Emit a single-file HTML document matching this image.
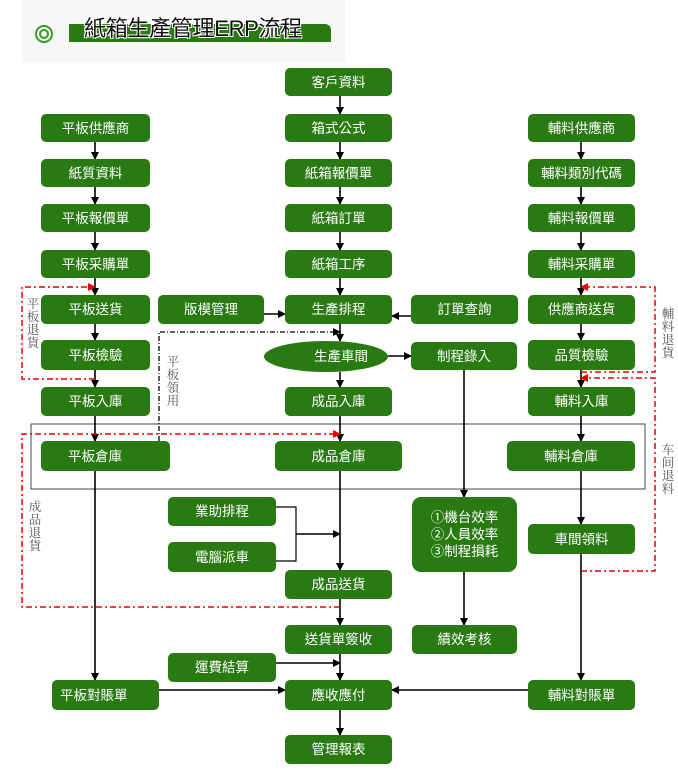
<!DOCTYPE html>
<html><head><meta charset="utf-8"><style>
body{margin:0;width:678px;height:783px;background:#fff;position:relative;overflow:hidden;font-family:"Liberation Sans","Noto Sans CJK TC",sans-serif}
.b{position:absolute;background:#2a7a14;color:#fff;border-radius:5px;font-size:13.5px;display:flex;align-items:center;justify-content:center;text-align:center;line-height:17px}
.v{position:absolute;writing-mode:vertical-rl;font-family:"Liberation Serif","Noto Serif CJK SC",serif;font-size:12.5px;color:#555;line-height:12px;letter-spacing:0.5px}
svg{position:absolute;left:0;top:0}
</style></head><body>
<div style="position:absolute;left:22px;top:0;width:323px;height:62px;background:#f7f7f5"></div>
<div style="position:absolute;left:35px;top:25px;width:18px;height:18px;border:2.5px solid #3a9a2a;border-radius:50%;box-sizing:border-box"></div>
<div style="position:absolute;left:39px;top:29px;width:10px;height:10px;border:2px solid #3a9a2a;border-radius:50%;box-sizing:border-box"></div>
<div style="position:absolute;left:69px;top:24px;width:262px;height:18px;background:#2a7a14;border-radius:0 6px 0 0"></div>
<div style="position:absolute;left:84px;top:11px;font-size:22px;color:#111;text-shadow:1px 1px 0 #fff,-1px -1px 0 #fff,1px -1px 0 #fff,-1px 1px 0 #fff;letter-spacing:-0.3px">紙箱生產管理ERP流程</div>

<svg width="678" height="783">
<defs><marker id="a" markerWidth="8" markerHeight="8" refX="7" refY="4" orient="auto" markerUnits="userSpaceOnUse"><path d="M0,0L8,4L0,8z" fill="#000"/></marker>
<marker id="r" markerWidth="8" markerHeight="8" refX="7" refY="4" orient="auto" markerUnits="userSpaceOnUse"><path d="M0,0L8,4L0,8z" fill="#e00"/></marker></defs>
<rect x="31" y="424" width="614" height="65" fill="none" stroke="#444" stroke-width="1"/>
<g stroke="#000" stroke-width="1.6" fill="none" marker-end="url(#a)">
<path d="M95 142V159"/><path d="M95 187V204"/><path d="M95 232V250"/><path d="M95 278V295"/><path d="M95 324V340"/><path d="M95 370V387"/><path d="M95 416V441"/><path d="M95 471V680"/>
<path d="M340 96V114"/><path d="M340 142V159"/><path d="M340 187V204"/><path d="M340 232V250"/><path d="M340 278V295"/><path d="M340 324V341"/><path d="M340 372V387"/><path d="M340 416V441"/><path d="M340 471V570"/><path d="M340 599V625"/><path d="M340 654V680"/><path d="M340 710V735"/>
<path d="M581 142V159"/><path d="M581 187V204"/><path d="M581 232V250"/><path d="M581 278V295"/><path d="M581 324V340"/><path d="M581 370V387"/><path d="M581 416V441"/><path d="M581 471V524"/><path d="M581 554V680"/>
<path d="M264 314H285"/><path d="M411 316H392"/><path d="M388 356H411"/><path d="M464 370V497"/><path d="M464 572V625"/>
<path d="M296 534H340"/><path d="M276 663H340"/><path d="M159 690H285"/><path d="M528 690H392"/>
</g>
<path d="M276 507H296V561H276" stroke="#000" stroke-width="1.2" fill="none"/>
<path d="M159 441V332H340" stroke="#000" stroke-width="1.3" stroke-dasharray="5,2,1,2" fill="none" marker-end="url(#a)"/>
<g stroke="#e00" stroke-width="1.5" stroke-dasharray="6,3,2,3" fill="none">
<path d="M95 379H22V287H95" marker-end="url(#r)"/>
<path d="M340 607H22V434H340" marker-end="url(#r)"/>
<path d="M581 372H655V287H581" marker-end="url(#r)"/>
<path d="M581 571H655V378H581" marker-end="url(#r)"/>
</g>
</svg>

<div class="b" style="left:41px;top:114px;width:109px;height:28px">平板供應商</div>
<div class="b" style="left:41px;top:159px;width:109px;height:28px">紙質資料</div>
<div class="b" style="left:41px;top:204px;width:109px;height:28px">平板報價單</div>
<div class="b" style="left:41px;top:250px;width:109px;height:28px">平板采購單</div>
<div class="b" style="left:41px;top:295px;width:109px;height:29px">平板送貨</div>
<div class="b" style="left:41px;top:340px;width:109px;height:30px">平板檢驗</div>
<div class="b" style="left:41px;top:387px;width:109px;height:29px">平板入庫</div>
<div class="b" style="left:41px;top:441px;width:129px;height:30px;justify-content:flex-start;padding-left:27px;box-sizing:border-box">平板倉庫</div>
<div class="b" style="left:52px;top:680px;width:107px;height:30px;justify-content:flex-start;padding-left:8px;box-sizing:border-box">平板對賬單</div>

<div class="b" style="left:285px;top:68px;width:107px;height:28px">客戶資料</div>
<div class="b" style="left:285px;top:114px;width:107px;height:28px">箱式公式</div>
<div class="b" style="left:285px;top:159px;width:107px;height:28px">紙箱報價單</div>
<div class="b" style="left:285px;top:204px;width:107px;height:28px">紙箱訂單</div>
<div class="b" style="left:285px;top:250px;width:107px;height:28px">紙箱工序</div>
<div class="b" style="left:285px;top:295px;width:107px;height:29px">生產排程</div>
<div class="b" style="left:264px;top:341px;width:124px;height:31px;border-radius:50%;padding-left:30px;box-sizing:border-box">生產車間</div>
<div class="b" style="left:285px;top:387px;width:107px;height:29px">成品入庫</div>
<div class="b" style="left:275px;top:441px;width:127px;height:30px">成品倉庫</div>
<div class="b" style="left:285px;top:570px;width:107px;height:29px">成品送貨</div>
<div class="b" style="left:285px;top:625px;width:107px;height:29px">送貨單簽收</div>
<div class="b" style="left:285px;top:680px;width:107px;height:30px">應收應付</div>
<div class="b" style="left:285px;top:735px;width:107px;height:29px">管理報表</div>

<div class="b" style="left:158px;top:295px;width:106px;height:29px">版模管理</div>
<div class="b" style="left:411px;top:295px;width:107px;height:29px">訂單查詢</div>
<div class="b" style="left:411px;top:342px;width:106px;height:28px">制程錄入</div>
<div class="b" style="left:412px;top:497px;width:105px;height:75px;border-radius:9px">①機台效率<br>②人員效率<br>③制程損耗</div>
<div class="b" style="left:412px;top:625px;width:105px;height:29px">績效考核</div>
<div class="b" style="left:168px;top:497px;width:108px;height:29px">業助排程</div>
<div class="b" style="left:168px;top:542px;width:108px;height:30px">電腦派車</div>
<div class="b" style="left:168px;top:653px;width:108px;height:29px">運費結算</div>

<div class="b" style="left:528px;top:114px;width:107px;height:28px">輔料供應商</div>
<div class="b" style="left:528px;top:159px;width:107px;height:28px">輔料類別代碼</div>
<div class="b" style="left:528px;top:204px;width:107px;height:28px">輔料報價單</div>
<div class="b" style="left:528px;top:250px;width:107px;height:28px">輔料采購單</div>
<div class="b" style="left:528px;top:295px;width:107px;height:29px">供應商送貨</div>
<div class="b" style="left:528px;top:340px;width:107px;height:30px">品質檢驗</div>
<div class="b" style="left:528px;top:387px;width:107px;height:29px">輔料入庫</div>
<div class="b" style="left:507px;top:441px;width:128px;height:30px">輔料倉庫</div>
<div class="b" style="left:528px;top:524px;width:107px;height:30px">車間領料</div>
<div class="b" style="left:528px;top:680px;width:107px;height:30px">輔料對賬單</div>

<div class="v" style="left:26px;top:297px">平板退貨</div>
<div class="v" style="left:166px;top:355px">平板領用</div>
<div class="v" style="left:28px;top:500px">成品退貨</div>
<div class="v" style="left:661px;top:307px">輔料退貨</div>
<div class="v" style="left:661px;top:443px">车间退料</div>
</body></html>
